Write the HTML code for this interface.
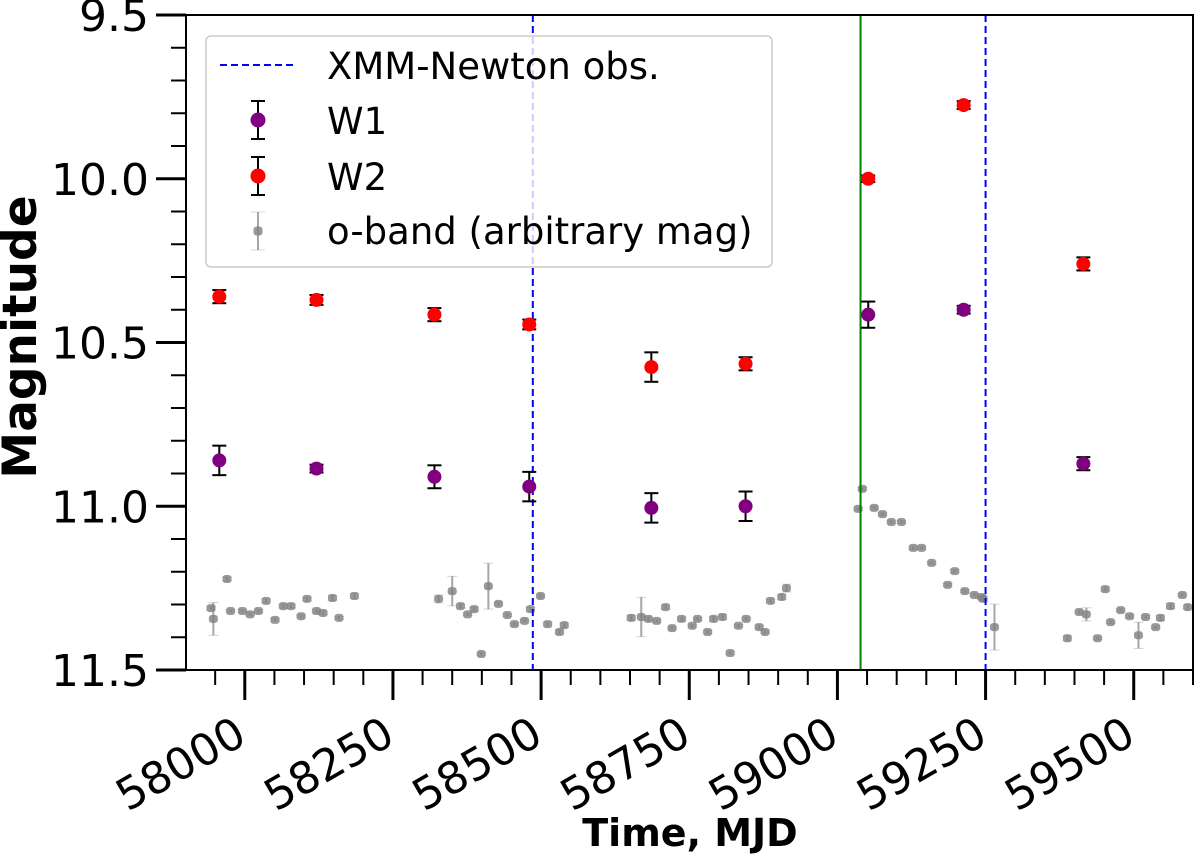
<!DOCTYPE html>
<html><head><meta charset="utf-8"><style>
html,body{margin:0;padding:0;background:#fff;}
svg{display:block;font-family:"DejaVu Sans","Liberation Sans",sans-serif;}
</style></head><body>
<svg id="chart" width="1200" height="858" viewBox="0 0 1200 858" xmlns="http://www.w3.org/2000/svg"></svg>
<script>
// ---- data ----
const wMjd = [57957, 58121, 58320, 58480, 58686, 58845, 59052, 59213, 59415];
const w1Mag = [10.86, 10.885, 10.91, 10.94, 11.005, 11.0, 10.415, 10.40, 10.87];
const w1Err = [0.045, 0.012, 0.035, 0.045, 0.045, 0.045, 0.04, 0.012, 0.02];
const w2Mag = [10.36, 10.37, 10.415, 10.445, 10.575, 10.565, 10.0, 9.775, 10.26];
const w2Err = [0.02, 0.015, 0.02, 0.015, 0.045, 0.02, 0.01, 0.012, 0.02];
const oMjd = [57943,57947,57970,57976,57996,58009,58023,58036,58051,58065,58078,58095,58105,58121,58132,58148,58159,58185,
58327,58350,58364,58376,58387,58399,58411,58428,58443,58455,58472,58482,58499,58511,58531,58539,
58652,58669,58681,58695,58710,58721,58737,58755,58764,58781,58791,58806,58819,58833,58846,58868,58878,58887,58906,58914,
59035,59042,59062,59076,59091,59108,59128,59142,59159,59186,59198,59215,59231,59243,59246,59265,
59388,59408,59420,59439,59452,59461,59478,59493,59508,59520,59537,59545,59562,59582,59591];
const oMag = [11.311,11.344,11.222,11.320,11.320,11.330,11.320,11.289,11.347,11.305,11.305,11.336,11.283,11.320,11.326,11.280,11.341,11.274,
11.283,11.259,11.305,11.330,11.314,11.451,11.244,11.298,11.332,11.360,11.350,11.314,11.274,11.360,11.384,11.363,
11.341,11.338,11.344,11.350,11.308,11.372,11.344,11.365,11.344,11.384,11.344,11.338,11.448,11.365,11.344,11.369,11.384,11.289,11.277,11.250,
11.008,10.947,11.005,11.024,11.048,11.048,11.127,11.127,11.173,11.240,11.198,11.259,11.271,11.277,11.283,11.369,
11.403,11.323,11.330,11.403,11.253,11.354,11.317,11.336,11.394,11.338,11.369,11.341,11.305,11.271,11.308];
const oErr = [0.006,0.05,0.006,0.004,0.004,0.004,0.004,0.006,0.004,0.006,0.006,0.004,0.006,0.006,0.006,0.008,0.004,0.008,
0.012,0.045,0.006,0.004,0.006,0.004,0.07,0.004,0.004,0.004,0.004,0.006,0.004,0.006,0.006,0.006,
0.008,0.06,0.006,0.004,0.006,0.004,0.006,0.004,0.004,0.004,0.008,0.008,0.004,0.004,0.004,0.006,0.004,0.006,0.008,0.012,
0.004,0.004,0.004,0.004,0.004,0.004,0.004,0.004,0.004,0.004,0.004,0.004,0.004,0.006,0.008,0.07,
0.008,0.004,0.02,0.004,0.006,0.004,0.004,0.004,0.04,0.004,0.004,0.008,0.008,0.004,0.006];
const xmmLines = [58486, 59250];
const flareLine = [59039];
const xTicks = [58000, 58250, 58500, 58750, 59000, 59250, 59500];
const yTicks = [9.5, 10.0, 10.5, 11.0, 11.5];

// ---- scales ----
const L=186, R=1193, T=15, B=670;
const X0=57900.8, X1=59600;
const Y0=9.5, Y1=11.5;
const sx = v => L + (v - X0) / (X1 - X0) * (R - L);
const sy = v => T + (v - Y0) / (Y1 - Y0) * (B - T);
const svg = document.getElementById('chart');
const NS='http://www.w3.org/2000/svg';
function mk(tag, attrs, parent){ const e=document.createElementNS(NS,tag); for(const k in attrs) e.setAttribute(k,attrs[k]); (parent||svg).appendChild(e); return e; }

const frame = mk('rect',{x:L,y:T,width:R-L,height:B-T,fill:'#fff',stroke:'#000','stroke-width':2});



// o-band
const gO = mk('g',{});


for(let i=0;i<oMjd.length;i++){
  const x=sx(oMjd[i]), y=sy(oMag[i]), e=Math.max((sy(oMag[i]+oErr[i])-y),1);
  mk('line',{x1:x,x2:x,y1:y-e,y2:y+e,stroke:'#808080','stroke-opacity':0.7,'stroke-width':2},gO);
  mk('line',{x1:x-5,x2:x+5,y1:y-e,y2:y-e,stroke:'#808080','stroke-opacity':0.35,'stroke-width':1},gO);
  mk('line',{x1:x-5,x2:x+5,y1:y+e,y2:y+e,stroke:'#808080','stroke-opacity':0.35,'stroke-width':1},gO);
  const p=mk('rect',{x:x-4.5,y:y-4,width:9,height:8,rx:3,fill:'#808080','fill-opacity':0.8},gO);
  
  
}

xmmLines.forEach(v=>{
  const l=mk('line',{x1:sx(v),x2:sx(v),y1:T,y2:B,stroke:'#0000ff','stroke-width':2,'stroke-dasharray':'7,4'});
  
  
});
flareLine.forEach(v=>{
  const l=mk('line',{x1:sx(v),x2:sx(v),y1:T,y2:B,stroke:'#008000','stroke-width':2});
  
  
});

function wSeries(mags,errs,color,name){
  const g=mk('g',{});
  
  
  for(let i=0;i<wMjd.length;i++){
    const x=sx(wMjd[i]), y=sy(mags[i]), y1=sy(mags[i]-errs[i]), y2=sy(mags[i]+errs[i]);
    mk('line',{x1:x,x2:x,y1:y1,y2:y2,stroke:'#000','stroke-width':2},g);
    mk('line',{x1:x-7,x2:x+7,y1:y1,y2:y1,stroke:'#000','stroke-width':2},g);
    mk('line',{x1:x-7,x2:x+7,y1:y2,y2:y2,stroke:'#000','stroke-width':2},g);
    const c=mk('circle',{cx:x,cy:y,r:7,fill:color},g);
    
    
  }
}
wSeries(w2Mag,w2Err,'#ff0000','w2');
wSeries(w1Mag,w1Err,'#800080','w1');

mk('rect',{x:L,y:T,width:R-L,height:B-T,fill:'none',stroke:'#000','stroke-width':2});

// y ticks
const gY=mk('g',{});


for(let m=95;m<=115;m++){
  const v=m/10, y=sy(v), major=(m%5===0);
  mk('line',{x1:L-(major?30:15),x2:L,y1:y,y2:y,stroke:'#000','stroke-width':major?3:2},gY);
}
yTicks.forEach(v=>{
  const t=mk('text',{x:149,y:sy(v)+16,'text-anchor':'end','font-size':44,fill:'#000'},gY);
  t.textContent=v.toFixed(1);
  
  
});
// x ticks
const gX=mk('g',{});


for(let v=57950;v<=59600;v+=50){
  const x=sx(v), major=(v%250===0);
  mk('line',{x1:x,x2:x,y1:B,y2:B+(major?30:15),stroke:'#000','stroke-width':major?3:2},gX);
}
xTicks.forEach(v=>{
  const x=sx(v);
  const t=mk('text',{x:0,y:0,'text-anchor':'end','font-size':44,fill:'#000',transform:`translate(${x+4},${B+72}) rotate(-30)`},gX);
  t.textContent=String(v);
  
  
});
const yt=mk('text',{x:0,y:0,'text-anchor':'middle','font-size':47,'font-weight':'bold',transform:'translate(36,337) rotate(-90)'});
yt.textContent='Magnitude';


const xt=mk('text',{x:690,y:846,'text-anchor':'middle','font-size':38,'font-weight':'bold'});
xt.textContent='Time, MJD';



// legend
const lg=mk('g',{});


mk('rect',{x:206,y:36,width:566,height:231,rx:5,fill:'#fff','fill-opacity':0.8,stroke:'#cccccc','stroke-width':1.5},lg);
mk('line',{x1:220,x2:296,y1:65,y2:65,stroke:'#0000ff','stroke-width':2,'stroke-dasharray':'7,4'},lg);
function lgText(y,txt,name){ const t=mk('text',{x:327,y:y,'font-size':37,fill:'#000'},lg); t.textContent=txt;   }
lgText(79,'XMM-Newton obs.','legend-entry-xmm');
[[120,'#800080','W1'],[176,'#ff0000','W2']].forEach(([y,c,n])=>{
  mk('line',{x1:258,x2:258,y1:y-19,y2:y+19,stroke:'#000','stroke-width':2},lg);
  mk('line',{x1:251,x2:265,y1:y-19,y2:y-19,stroke:'#000','stroke-width':2},lg);
  mk('line',{x1:251,x2:265,y1:y+19,y2:y+19,stroke:'#000','stroke-width':2},lg);
  mk('circle',{cx:258,cy:y,r:7.5,fill:c},lg);
  lgText(y+14,n,'legend-entry-'+n.toLowerCase());
});
mk('line',{x1:258,x2:258,y1:212,y2:250,stroke:'#808080','stroke-opacity':0.7,'stroke-width':2},lg);
mk('line',{x1:251,x2:265,y1:212,y2:212,stroke:'#808080','stroke-opacity':0.3,'stroke-width':1},lg);
mk('line',{x1:251,x2:265,y1:250,y2:250,stroke:'#808080','stroke-opacity':0.3,'stroke-width':1},lg);
mk('rect',{x:253.5,y:226.5,width:9,height:9,rx:3,fill:'#808080','fill-opacity':0.8},lg);
lgText(244,'o-band (arbitrary mag)','legend-entry-o-band');
</script>
</body></html>
